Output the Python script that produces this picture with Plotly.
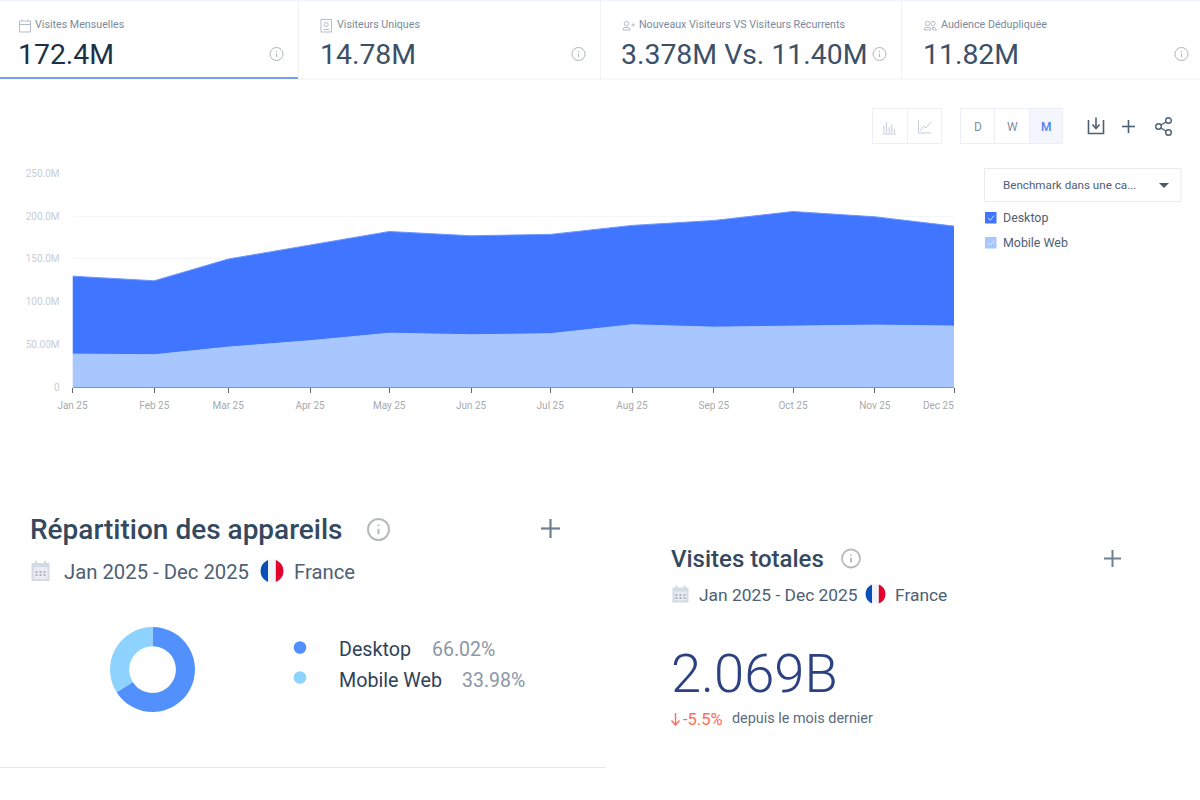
import math
import plotly.graph_objects as go

# ---- data ----
dates = ["2025-01-01", "2025-02-01", "2025-03-01", "2025-04-01", "2025-05-01", "2025-06-01",
         "2025-07-01", "2025-08-01", "2025-09-01", "2025-10-01", "2025-11-01", "2025-12-01"]
tick_labels = ["Jan 25", "Feb 25", "Mar 25", "Apr 25", "May 25", "Jun 25",
               "Jul 25", "Aug 25", "Sep 25", "Oct 25", "Nov 25", ""]
last_label = "Dec 25"
mobile = [38.5e6, 37.8e6, 46.7e6, 54.2e6, 63.0e6, 61.2e6, 62.4e6, 72.9e6, 70.1e6, 70.9e6, 72.5e6, 71.3e6]
desktop = [91.3e6, 86.6e6, 103.1e6, 112.3e6, 119.1e6, 115.9e6, 116.3e6, 116.3e6, 124.9e6, 134.6e6, 126.8e6, 117.1e6]
y_ticks = [0, 50e6, 100e6, 150e6, 200e6, 250e6]
y_labels = ["0", "50.00M", "100.0M", "150.0M", "200.0M", "250.0M"]
share_labels = ["Desktop", "Mobile Web"]
share_values = [66.02, 33.98]

W, H = 1200, 800
FONT = "Roboto"
px = lambda x: x / W
py = lambda y: 1 - y / H

fig = go.Figure()
fig.add_trace(go.Scatter(x=dates, y=mobile, name="Mobile Web", stackgroup="s", mode="lines",
                         line=dict(color="#a8c7fe", width=1), fillcolor="#a8c7fe", showlegend=False))
fig.add_trace(go.Scatter(x=dates, y=desktop, name="Desktop", stackgroup="s", mode="lines",
                         line=dict(color="#6f96ff", width=1), fillcolor="#3f75ff", showlegend=False))
fig.add_trace(go.Pie(labels=share_labels, values=share_values, hole=0.55, sort=False, direction="clockwise",
                     rotation=0, textinfo="none", showlegend=False,
                     marker=dict(colors=["#5291fb", "#8ed2ff"], line=dict(color="#ffffff", width=0)),
                     domain=dict(x=[px(110), px(195)], y=[py(712), py(627)])))

shapes, annos = [], []

def line(x0, y0, x1, y1, color, w=1):
    shapes.append(dict(type="line", xref="paper", yref="paper", x0=px(x0), y0=py(y0), x1=px(x1), y1=py(y1),
                       line=dict(color=color, width=w), layer="above"))

def rect(x0, y0, x1, y1, fill=None, color=None, w=1):
    shapes.append(dict(type="rect", xref="paper", yref="paper", x0=px(x0), y0=py(y0), x1=px(x1), y1=py(y1),
                       fillcolor=fill or "rgba(0,0,0,0)", line=dict(color=color or "rgba(0,0,0,0)", width=w if color else 0),
                       layer="above"))

def circle(cx, cy, r, fill=None, color=None, w=1):
    rect_d = dict(type="circle", xref="paper", yref="paper", x0=px(cx - r), y0=py(cy + r), x1=px(cx + r), y1=py(cy - r),
                  fillcolor=fill or "rgba(0,0,0,0)", line=dict(color=color or "rgba(0,0,0,0)", width=w if color else 0),
                  layer="above")
    shapes.append(rect_d)

def poly(points, fill=None, color=None, w=1, close=True):
    d = "M " + " L ".join(f"{px(a):.5f},{py(b):.5f}" for a, b in points) + (" Z" if close else "")
    shapes.append(dict(type="path", xref="paper", yref="paper", path=d,
                       fillcolor=fill or "rgba(0,0,0,0)", line=dict(color=color or "rgba(0,0,0,0)", width=w if color else 0),
                       layer="above"))

def text(x, y, s, size, color, anchor="left", weight=400):
    annos.append(dict(xref="paper", yref="paper", x=px(x - 1 if anchor == "left" else x), y=py(y), text=s,
                      showarrow=False, xanchor=anchor, yanchor="middle", align=anchor, borderpad=0,
                      font=dict(family=FONT, size=size, color=color, weight=weight)))

def info(cx, cy, r, color="#aeb4ba", w=1):
    circle(cx, cy, r, color=color, w=w)
    s = r / 7
    line(cx, cy - 0.5 * s, cx, cy + 3.2 * s, color, w)
    circle(cx, cy - 2.8 * s, 0.7 * s, fill=color)

def plus(cx, cy, r, color="#6a7b8f", w=2):
    line(cx - r, cy, cx + r, cy, color, w)
    line(cx, cy - r, cx, cy + r, color, w)

def flag(cx, cy, r):
    def seg(x0, x1, col):
        pts = []
        n = 14
        for i in range(n + 1):
            x = x0 + (x1 - x0) * i / n
            pts.append((cx + x * r, cy - math.sqrt(max(0, 1 - x * x)) * r))
        for i in range(n + 1):
            x = x1 + (x0 - x1) * i / n
            pts.append((cx + x * r, cy + math.sqrt(max(0, 1 - x * x)) * r))
        poly(pts, fill=col)
    seg(-1, -0.33, "#0a4fb5")
    seg(-0.33, 0.33, "#f1f3f8")
    seg(0.33, 1, "#e2002d")

def big_cal(cx, cy, w_, h_):
    rect(cx - w_ / 2, cy - h_ / 2 + 2, cx + w_ / 2, cy + h_ / 2, fill="#d3dae4")
    rect(cx - w_ / 2 + 2, cy - h_ / 2 + 6, cx + w_ / 2 - 2, cy + h_ / 2 - 2, fill="#e9edf2")
    line(cx - w_ / 4, cy - h_ / 2, cx - w_ / 4, cy - h_ / 2 + 3, "#d3dae4", 2)
    line(cx + w_ / 4, cy - h_ / 2, cx + w_ / 4, cy - h_ / 2 + 3, "#d3dae4", 2)
    for dx in (-4, 0, 4):
        for dy in (1, 4):
            rect(cx + dx - 1, cy + dy - 1, cx + dx + 1, cy + dy + 1, fill="#aab4c2")

# ---- KPI strip ----
rect(0, 0, W, 1.5, fill="#f1f5fc")
line(0, 79, W, 79, "#eef1f4", 1)
line(298.5, 1, 298.5, 79, "#f0f2f5", 1)
line(600.5, 1, 600.5, 79, "#f0f2f5", 1)
line(901.5, 1, 901.5, 79, "#f0f2f5", 1)
line(0, 78, 298, 78, "#4f7fec", 1.5)

KT = "#7a8a9c"
text(35, 24.5, "Visites Mensuelles", 10.7, KT)
text(337, 24.5, "Visiteurs Uniques", 10.7, KT)
text(639, 24.5, "Nouveaux Visiteurs VS Visiteurs Récurrents", 10.7, KT)
text(940.5, 24.5, "Audience Dédupliquée", 10.7, KT)
text(18, 54, "172.4M", 28.4, "#1b3149")
text(320, 54, "14.78M", 28.4, "#3c5068")
text(621, 54, "3.378M Vs. 11.40M", 28.4, "#3c5068")
text(923, 54, "11.82M", 28.4, "#3c5068")
for cx in (276.5, 578.5, 879.5, 1181.5):
    info(cx, 54, 6.5)

ICON = "#b4bdc9"
# calendar small
rect(19.5, 21, 30.5, 32, color=ICON)
line(19.5, 24.5, 30.5, 24.5, ICON)
line(22, 19.5, 22, 21, ICON)
line(28, 19.5, 28, 21, ICON)
# person card
rect(321, 19.5, 331.5, 32, color=ICON)
circle(326.2, 24.5, 2, color=ICON)
line(323.5, 29.5, 329, 29.5, ICON)
# new visitor
circle(626.5, 23.5, 2.2, color=ICON)
poly([(623, 30), (624, 27.5), (629, 27.5), (630, 30)], color=ICON, close=True)
line(631.5, 25, 635, 25, ICON)
line(633.2, 23.3, 633.2, 26.7, ICON)
# audience
circle(927.5, 23.5, 2.2, color=ICON)
circle(933, 23.5, 2.2, color=ICON)
poly([(924, 30), (925, 27.5), (930, 27.5), (931, 30)], color=ICON)
poly([(932, 27.5), (935, 27.5), (936.5, 30), (933, 30)], color=ICON)

# ---- toolbar ----
B = "#eceff3"
rect(872.5, 108.5, 941.5, 143.5, color=B)
line(907.5, 108.5, 907.5, 143.5, B)
for i, hh in enumerate((8, 11, 6, 9, 4)):
    line(884 + i * 2.6, 133, 884 + i * 2.6, 133 - hh, "#c5cddb", 1)
line(882.5, 134, 896, 134, "#c5cddb", 1)
line(918.5, 120, 918.5, 133, "#c5cddb", 1)
line(918.5, 133, 931, 133, "#c5cddb", 1)
poly([(920, 131), (924, 126), (926, 128), (931, 122)], color="#c5cddb", close=False)

rect(1029, 108.5, 1062.5, 143.5, fill="#f3f7fd")
rect(960.5, 108.5, 1062.5, 143.5, color=B)
line(994.5, 108.5, 994.5, 143.5, B)
line(1029.5, 108.5, 1029.5, 143.5, B)
text(977.5, 127, "D", 12, "#7f8ea3", "center")
text(1012, 127, "W", 12, "#7f8ea3", "center")
text(1046, 127, "M", 12, "#4f7fec", "center", 500)

DK = "#4d5f73"
poly([(1088.5, 120), (1088.5, 133.5), (1103.5, 133.5), (1103.5, 120)], color=DK, w=1.6, close=False)
line(1096, 117.5, 1096, 128, DK, 1.6)
poly([(1092.5, 124.5), (1096, 128.5), (1099.5, 124.5)], color=DK, w=1.6, close=False)
plus(1128.5, 126.5, 6.5, DK, 1.6)
circle(1158.5, 126.5, 2.8, color=DK, w=1.4)
circle(1168.5, 120.5, 2.8, color=DK, w=1.4)
circle(1168.5, 132.5, 2.8, color=DK, w=1.4)
line(1161, 125, 1166, 122, DK, 1.4)
line(1161, 128, 1166, 131, DK, 1.4)

# dropdown + series checks
rect(984.5, 168.5, 1181, 201.5, color="#e8ebef")
text(1003, 185, "Benchmark dans une ca...", 11.65, "#4e5f73")
poly([(1159, 183), (1169, 183), (1164, 188)], fill="#4a5a6c")
rect(985, 212, 996.5, 223.5, fill="#3f75ff")
poly([(988, 218), (990.3, 220.3), (994, 215.5)], color="#c8d9ff", w=1, close=False)
rect(985, 237, 996.5, 248.5, fill="#a8c7fe")
poly([(988, 243), (990.3, 245.3), (994, 240.5)], color="#e0ebff", w=1, close=False)
text(1003, 218, "Desktop", 12.4, "#4e5f73")
text(1003, 243, "Mobile Web", 12.4, "#4e5f73")

# ---- device split panel ----
text(30, 529, "Répartition des appareils", 28, "#34495e", weight=500)
info(378.5, 529.5, 10.5, "#b7babd", 2)
plus(550.5, 528.5, 9.5, "#6f7f91", 2.2)
big_cal(40.5, 571, 18, 20)
text(64, 571.5, "Jan 2025 - Dec 2025", 20.3, "#4d6074")
flag(272, 571, 11.5)
text(294, 571.5, "France", 20.3, "#4d6074")
circle(300, 647.5, 6.3, fill="#5291fb")
circle(300, 677.5, 6.3, fill="#8ed2ff")
text(339, 649, share_labels[0], 19.7, "#2f4258")
text(432, 649, f"{share_values[0]:.2f}%", 19.5, "#8a97a6")
text(339, 680, share_labels[1], 19.7, "#2f4258")
text(462, 680, f"{share_values[1]:.2f}%", 19.5, "#8a97a6")
line(0, 767.5, 606, 767.5, "#e6e9ed", 1)

# ---- total visits panel ----
text(671, 558.5, "Visites totales", 24, "#34495e", weight=500)
info(851, 558.5, 9, "#b7babd", 1.8)
plus(1112.5, 558.5, 8.5, "#6f7f91", 2)
big_cal(680.5, 594, 16, 17)
text(699, 594.5, "Jan 2025 - Dec 2025", 17.4, "#4d6074")
flag(875.5, 594, 10)
text(895, 594.5, "France", 17.4, "#4d6074")
text(671, 673, "2.069B", 54.3, "#2c4181", weight=300)
# arrow + change
line(675.5, 713, 675.5, 725, "#ff6a5a", 1.4)
poly([(671.5, 720.5), (675.5, 725), (679.5, 720.5)], color="#ff6a5a", w=1.4, close=False)
text(683, 719, "-5.5%", 16.5, "#ff6a5a")
text(732, 718.5, "depuis le mois dernier", 14.4, "#5b6c80")

# last month label sits inside the plot's right edge
annos.append(dict(xref="x", yref="paper", x=dates[-1], y=py(405.5), text=last_label, showarrow=False,
                  xanchor="right", yanchor="middle", xshift=2,
                  font=dict(family=FONT, size=10, color="#a6a9ad")))

fig.update_layout(
    width=W, height=H, margin=dict(l=0, r=0, t=0, b=0, autoexpand=False),
    paper_bgcolor="#ffffff", plot_bgcolor="#ffffff",
    font=dict(family=FONT), shapes=shapes, annotations=annos, hovermode=False,
    xaxis=dict(domain=[px(72.5), px(954)], type="date", range=[dates[0], dates[-1]],
               tickvals=dates, ticktext=tick_labels, ticks="outside", ticklen=5, tickcolor="#5d6875", tickwidth=1,
               tickfont=dict(family=FONT, size=10, color="#a6a9ad"), ticklabelstandoff=4,
               showgrid=False, zeroline=False, showline=True, linecolor="#8a94a0", linewidth=1),
    yaxis=dict(domain=[py(387), py(173.5)], range=[0, 250e6], tickvals=y_ticks, ticktext=y_labels, ticks="",
               tickfont=dict(family=FONT, size=10, color="#c8cdd6"), ticklabelstandoff=12,
               showgrid=True, gridcolor="#f5f6f8", gridwidth=1, zeroline=False, showline=False),
)

fig.write_html("out.html", config=dict(displayModeBar=False),
               post_script="document.body.style.margin='0';document.body.style.overflow='hidden';")
